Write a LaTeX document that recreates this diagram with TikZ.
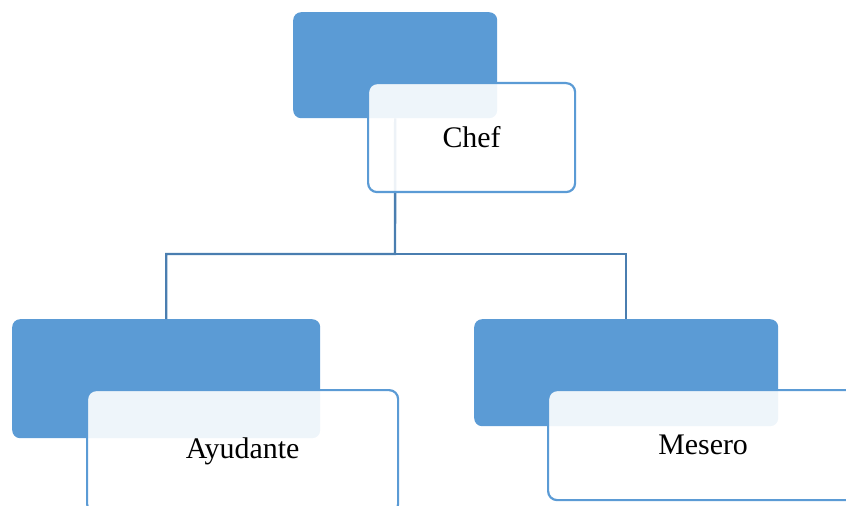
\documentclass[tikz,border=0pt]{standalone}
\usepackage{fontspec}
\setmainfont{Liberation Serif}
\definecolor{boxblue}{HTML}{5B9BD5}
\definecolor{linkblue}{HTML}{4A7EB0}
\begin{document}
\begin{tikzpicture}[x=1bp,y=-1bp,
  backbox/.style={rectangle, rounded corners=8bp, fill=boxblue, draw=none,
    inner sep=0pt, anchor=north west},
  labelbox/.style={rectangle, rounded corners=9bp, draw=boxblue, line width=2.2bp,
    fill=white, fill opacity=0.9, text opacity=1, inner sep=0pt, anchor=north west,
    font=\fontsize{30}{36}\selectfont, text=black},
  link/.style={draw=linkblue, line width=2.4bp}]
\useasboundingbox (0,0) rectangle (846,506);

% solid backing cards
\node[backbox, minimum width=204bp, minimum height=106bp] (chefback) at (293,12) {};
\node[backbox, minimum width=308bp, minimum height=119bp] (ayuback) at (12,319) {};
\node[backbox, minimum width=304bp, minimum height=107bp] (mesback) at (474,319) {};

% tree connectors
\coordinate (bus) at (395,254);
\draw[link] (chefback.south) -- (bus) -| (ayuback.north);
\draw[link] (bus) -| (mesback.north);

% translucent label cards
\node[labelbox, minimum width=207bp, minimum height=109bp] (chef) at (367,82) {Chef};
\node[labelbox, minimum width=311bp, minimum height=123bp] (ayu) at (86,389) {Ayudante};
\node[labelbox, minimum width=310bp, minimum height=110bp] (mes) at (547,389) {Mesero};
\end{tikzpicture}
\end{document}
